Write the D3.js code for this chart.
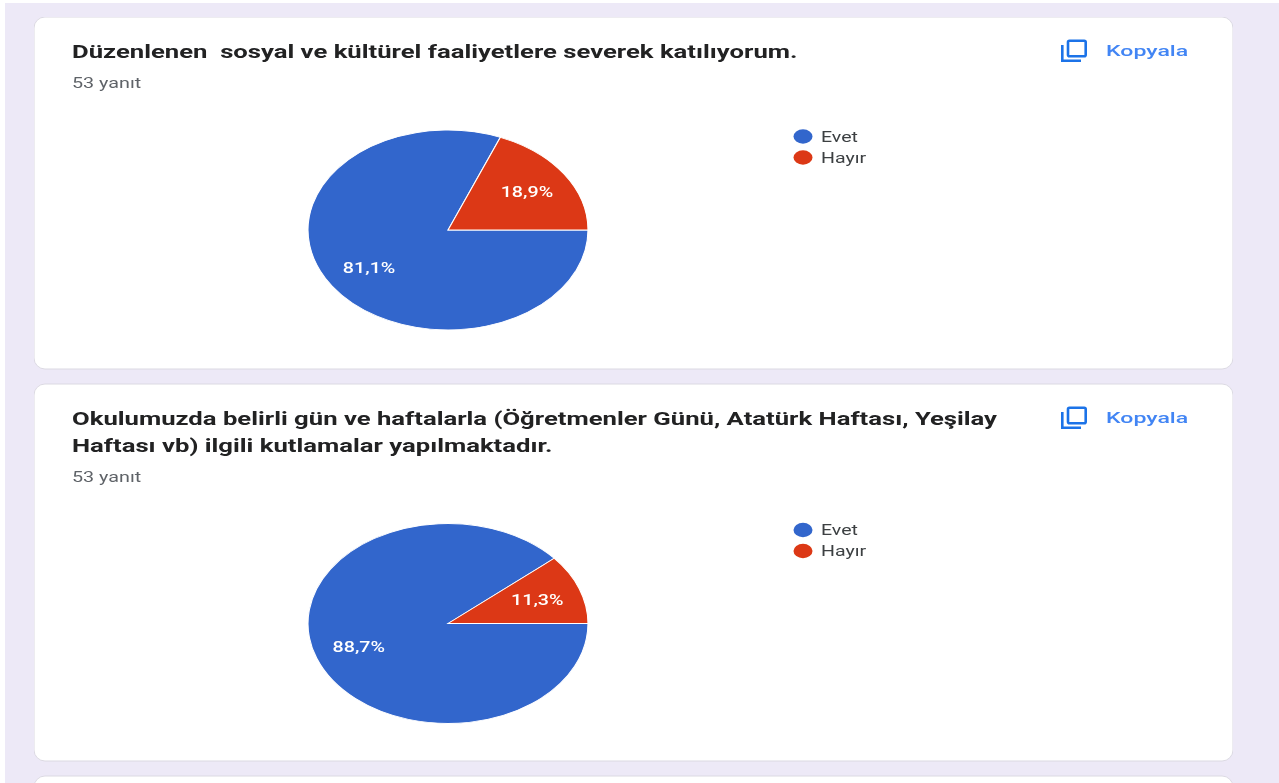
<!DOCTYPE html>
<meta charset="utf-8">
<script src="https://d3js.org/d3.v7.min.js"></script>
<style>
  html, body { margin: 0; padding: 0; background: #fff; }
  svg { display: block; }
  text { font-family: Roboto, "Liberation Sans", sans-serif; }
</style>
<div id="my_dataviz"></div>
<script>

// chart data
var categories = ["Evet", "Hayır"];
var colors = ["#3366cc", "#dc3912"];
var answersLabel = "53 yanıt";
var copyLabel = "Kopyala";

var titles1 = ["Düzenlenen  sosyal ve kültürel faaliyetlere severek katılıyorum."];
var values1 = [81.1, 18.9];
var labels1 = ["81,1%", "18,9%"];

var titles2 = ["Okulumuzda belirli gün ve haftalarla (Öğretmenler Günü, Atatürk Haftası, Yeşilay",
               "Haftası vb) ilgili kutlamalar yapılmaktadır."];
var values2 = [88.7, 11.3];
var labels2 = ["88,7%", "11,3%"];

var width = 1279, height = 783;

// the screenshot is stretched sideways, so text and pies are too
var stretch = 1.4;

var svg = d3.select("#my_dataviz")
  .append("svg")
    .attr("width", width)
    .attr("height", height);

svg.append("defs").append("filter")
    .attr("id", "soft")
    .attr("x", 0).attr("y", 0).attr("width", 1).attr("height", 1)
  .append("feGaussianBlur")
    .attr("stdDeviation", 0.45);

svg.append("rect")
    .attr("x", 5).attr("y", 3)
    .attr("width", width - 5).attr("height", height - 3)
    .attr("fill", "#ede9f7");

var page = svg.append("g").attr("filter", "url(#soft)");

function stretchedText(g, x, y, str, size, weight, fill, sx) {
  return g.append("text")
    .attr("transform", "translate(" + x + "," + y + ") scale(" + (sx || stretch) + ",1)")
    .style("font-size", size + "px")
    .style("font-weight", weight)
    .style("white-space", "pre")
    .attr("xml:space", "preserve")
    .attr("fill", fill)
    .text(str);
}

function card(top, h, titles, values, labels) {
  var g = page.append("g").attr("transform", "translate(0," + top + ")");

  g.append("rect")
      .attr("x", 34).attr("y", 0)
      .attr("width", 1199).attr("height", h)
      .attr("rx", 11).attr("ry", 11)
      .attr("fill", "#fff")
      .attr("stroke", "#dbd9e2");

  if (!titles) return;

  titles.forEach(function(t, i) {
    stretchedText(g, 72, 41 + i * 27, t, 18, 700, "#202124", 1.426);
  });

  var shift = (titles.length - 1) * 26.5;
  stretchedText(g, 72, 71 + shift, answersLabel, 14, 400, "#5f6368", 1.41);

  // copy icon
  var icon = g.append("g").attr("transform", "translate(1061,22.5)");
  icon.append("path")
      .attr("d", "M1.3 5.5V21.3H20")
      .attr("fill", "none").attr("stroke", "#1a73e8").attr("stroke-width", 2.6);
  icon.append("rect")
      .attr("x", 7).attr("y", 1.3).attr("width", 17.7).attr("height", 15.5).attr("rx", 1.5)
      .attr("fill", "none").attr("stroke", "#1a73e8").attr("stroke-width", 2.6);

  stretchedText(g, 1106, 38.5, copyLabel, 15, 500, "#4285f4", 1.54);

  // pie
  var pie = d3.pie().sort(null)
      .startAngle(Math.PI / 2)
      .endAngle(Math.PI / 2 + 2 * Math.PI);
  var arcs = pie(values);
  var r = 100, labelR = 68;
  var arc = d3.arc().innerRadius(0).outerRadius(r);
  var labelArc = d3.arc().innerRadius(labelR).outerRadius(labelR);

  var cy = 113 + shift + 100;
  var pieG = g.append("g").attr("transform", "translate(448," + cy + ")");

  pieG.append("g")
      .attr("transform", "scale(" + stretch + ",1)")
    .selectAll("path")
    .data(arcs)
    .enter()
    .append("path")
      .attr("d", arc)
      .attr("fill", function(d, i) { return colors[i]; })
      .attr("stroke", "#fff")
      .attr("stroke-width", 0.8);

  pieG.selectAll("text")
    .data(arcs)
    .enter()
    .append("text")
      .attr("transform", function(d) {
        var c = labelArc.centroid(d);
        return "translate(" + (c[0] * stretch) + "," + (c[1] + 5) + ") scale(1.36,1)";
      })
      .attr("text-anchor", "middle")
      .style("font-size", "14.5px")
      .style("font-weight", 500)
      .attr("fill", "#fff")
      .text(function(d, i) { return labels[i]; });

  // legend
  var legendY = d3.scaleBand().domain(categories).range([109 + shift, 151 + shift]);
  var legend = g.selectAll(".legend")
    .data(categories)
    .enter()
    .append("g")
      .attr("class", "legend")
      .attr("transform", function(d) { return "translate(803," + (legendY(d) + legendY.bandwidth() / 2) + ")"; });

  legend.append("ellipse")
      .attr("rx", 9.5).attr("ry", 7.2)
      .attr("fill", function(d, i) { return colors[i]; });

  legend.each(function(d) {
    stretchedText(d3.select(this), 18, 5, d, 14.5, 400, "#3c4043", 1.35);
  });
}

card(17, 352, titles1, values1, labels1);
card(384, 377, titles2, values2, labels2);
card(776, 40);

</script>
